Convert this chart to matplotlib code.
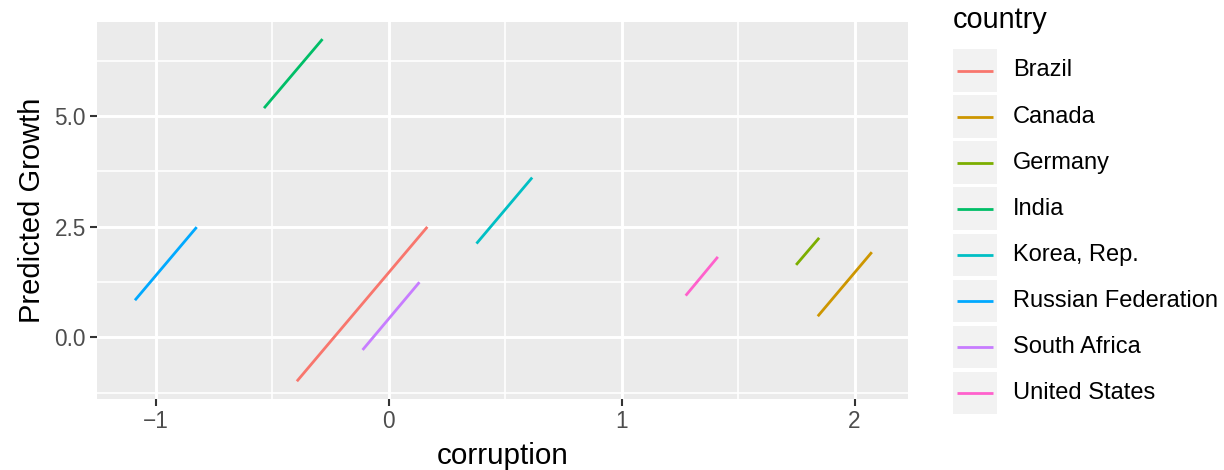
import matplotlib
matplotlib.use("Agg")
import matplotlib.pyplot as plt
from matplotlib.patches import Rectangle
from matplotlib.lines import Line2D

countries = ["Brazil", "Canada", "Germany", "India", "Korea, Rep.",
             "Russian Federation", "South Africa", "United States"]
x_start = [-0.394, 1.842, 1.749, -0.535, 0.377, -1.089, -0.112, 1.275]
x_end   = [0.166, 2.074, 1.848, -0.284, 0.616, -0.824, 0.132, 1.413]
y_start = [-0.995, 0.475, 1.636, 5.18, 2.118, 0.837, -0.287, 0.941]
y_end   = [2.495, 1.923, 2.247, 6.74, 3.61, 2.49, 1.244, 1.817]
colors = ["#F8766D", "#CD9600", "#7CAE00", "#00BE67", "#00BFC4",
          "#00A9FF", "#C77CFF", "#FF61CC"]
x_ticks = [-1, 0, 1, 2]
x_ticklabels = ["\u22121", "0", "1", "2"]
y_ticks = [0.0, 2.5, 5.0]
y_ticklabels = ["0.0", "2.5", "5.0"]
x_minor = [-0.5, 0.5, 1.5]
y_minor = [-1.25, 1.25, 3.75, 6.25]

W, H = 1224, 470
plt.rcParams['font.family'] = ['Liberation Sans', 'DejaVu Sans']
fig = plt.figure(figsize=(W / 100, H / 100), dpi=100)
fig.patch.set_facecolor("white")

def fx(x):
    return x / W

def fy(y):
    return 1 - y / H

left, right, top, bottom = 97, 907.7, 22, 399
ax = fig.add_axes([fx(left), fy(bottom), (right - left) / W, (bottom - top) / H])
ax.set_facecolor("#EBEBEB")
for s in ax.spines.values():
    s.set_visible(False)

ax.set_xlim(-1.252, 2.228)
ax.set_ylim(-1.396, 7.127)

for v in x_minor:
    ax.axvline(v, color="white", lw=1.2, zorder=1)
for v in y_minor:
    ax.axhline(v, color="white", lw=1.2, zorder=1)
for v in x_ticks:
    ax.axvline(v, color="white", lw=2.1, zorder=1)
for v in y_ticks:
    ax.axhline(v, color="white", lw=2.1, zorder=1)

for i in range(len(countries)):
    ax.plot([x_start[i], x_end[i]], [y_start[i], y_end[i]], color=colors[i],
            lw=2.0, solid_capstyle="butt", zorder=3)

ax.set_xticks(x_ticks)
ax.set_xticklabels(x_ticklabels)
ax.set_yticks(y_ticks)
ax.set_yticklabels(y_ticklabels)
ax.tick_params(axis="both", length=5, width=1.5, color="#333333",
               labelcolor="#4D4D4D", labelsize=16.3, pad=3)

fig.text(fx((left + right) / 2), fy(456), "corruption", ha="center", va="center",
         fontsize=21.3, color="black")
fig.text(fx(32), fy((top + bottom) / 2), "Predicted Growth", ha="center", va="center",
         rotation=90, fontsize=21, color="black")

# legend
fig.text(fx(953), fy(28.5), "country", ha="left", va="baseline", fontsize=20.8, color="black")
key_x0, key_w, key_h, key_y0, step = 953.3, 43.4, 42.4, 49.3, 46.06
for i, (name, c) in enumerate(zip(countries, colors)):
    y0 = key_y0 + i * step
    fig.patches.append(Rectangle((fx(key_x0), fy(y0 + key_h)), key_w / W, key_h / H,
                                 transform=fig.transFigure, facecolor="#F2F2F2",
                                 edgecolor="none"))
    yc = y0 + key_h / 2
    fig.lines.append(Line2D([fx(956.7), fx(993.3)], [fy(yc), fy(yc)],
                            transform=fig.transFigure, color=c, lw=2.0,
                            solid_capstyle="butt"))
    fig.text(fx(1013), fy(yc), name, ha="left", va="center", fontsize=17, color="black")

fig.savefig("out.png", dpi=100)
